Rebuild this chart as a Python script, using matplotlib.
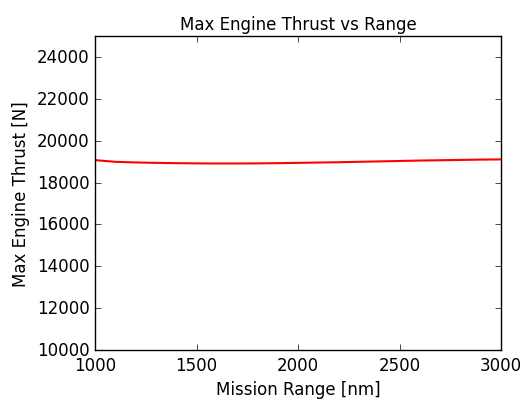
import matplotlib
matplotlib.use("Agg")
import matplotlib.pyplot as plt

plt.style.use("classic")

mission_range = [1000, 1100, 1200, 1300, 1400, 1500, 1600, 1700, 1800, 1900, 2000,
                 2100, 2200, 2300, 2400, 2500, 2600, 2700, 2800, 2900, 3000]
max_thrust = [19070, 18990, 18960, 18940, 18925, 18915, 18910, 18910, 18915, 18925, 18940,
              18955, 18970, 18990, 19010, 19030, 19050, 19065, 19080, 19095, 19105]

fig = plt.figure(figsize=(5.24, 4.02), dpi=100, facecolor="white")
ax = fig.add_axes([95 / 524, 51 / 402, 406 / 524, 314 / 402])
ax.plot(mission_range, max_thrust, "r-", linewidth=1.5)
ax.set_xlim(1000, 3000)
ax.set_ylim(10000, 25000)
ax.set_xticks([1000, 1500, 2000, 2500, 3000])
ax.set_title("Max Engine Thrust vs Range", fontsize=12)
ax.set_xlabel("Mission Range [nm]")
ax.set_ylabel("Max Engine Thrust [N]")

fig.savefig("out.png", dpi=100, facecolor="white")
